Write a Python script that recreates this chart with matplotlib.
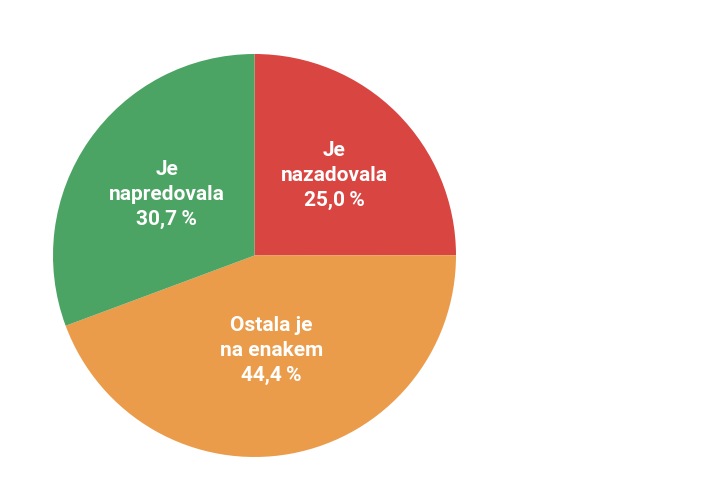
import numpy as np
import matplotlib.pyplot as plt

# data
labels = ["Je\nnazadovala", "Ostala je\nna enakem", "Je\nnapredovala"]
values = [25.0, 44.4, 30.7]
value_text = ["25,0\u2009%", "44,4\u2009%", "30,7\u2009%"]
colors = ["#D94541", "#EB9C4B", "#4BA463"]
label_dist = [0.56, 0.48, 0.53]

plt.rcParams['font.family'] = ['Roboto', 'DejaVu Sans']

fig = plt.figure(figsize=(7.01, 4.86), dpi=100)
ax = fig.add_axes([53 / 701, 29 / 486, 403 / 701, 403 / 486])

full = [l + "\n" + v for l, v in zip(labels, value_text)]
wedges, texts = ax.pie(values, labels=full, colors=colors, startangle=90,
                       counterclock=False, labeldistance=0.53,
                       wedgeprops=dict(linewidth=0),
                       textprops=dict(color="white", fontsize=15,
                                      fontweight="bold", linespacing=1.4))
for w, t, d in zip(wedges, texts, label_dist):
    ang = np.deg2rad((w.theta1 + w.theta2) / 2)
    t.set_position((d * np.cos(ang), d * np.sin(ang)))
    t.set_horizontalalignment("center")
    t.set_verticalalignment("center")

ax.set_xlim(-1, 1)
ax.set_ylim(-1, 1)
ax.set_aspect("equal")

fig.savefig("out.png", dpi=100)
